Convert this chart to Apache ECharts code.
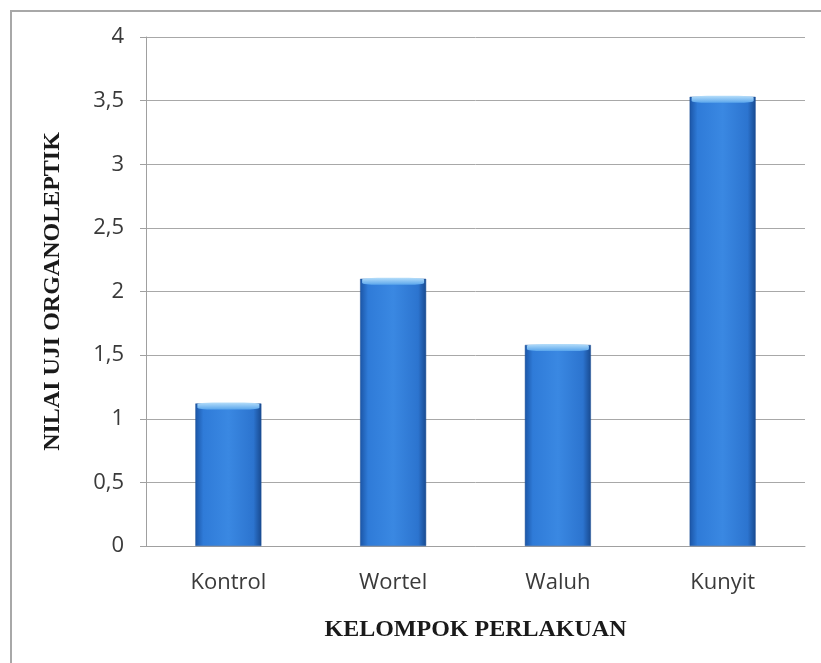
<!DOCTYPE html>
<html>
<head>
<meta charset="utf-8">
<script src="https://cdn.jsdelivr.net/npm/echarts@6/dist/echarts.min.js"></script>
<style>
  html, body { margin: 0; padding: 0; background: #fff; }
  #frame { position: absolute; left: 10px; top: 10px; width: 830px; height: 700px;
           border-left: 2px solid #a8a8a8; border-top: 2px solid #a8a8a8; box-sizing: border-box; }
  #chart { position: absolute; left: 0; top: 0; width: 821px; height: 663px; }
</style>
</head>
<body>
<div id="frame"></div>
<div id="chart"></div>
<script>
// Organoleptic test scores per treatment group
const categories = ['Kontrol', 'Wortel', 'Waluh', 'Kunyit'];
const scores = [1.12, 2.1, 1.58, 3.53];
const yTicks = [0, 0.5, 1, 1.5, 2, 2.5, 3, 3.5, 4];

const chart = echarts.init(document.getElementById('chart'));

const barFill = new echarts.graphic.LinearGradient(0, 0, 1, 0, [
  { offset: 0, color: '#1b55a6' },
  { offset: 0.12, color: '#2f7bd8' },
  { offset: 0.5, color: '#3a88e2' },
  { offset: 0.88, color: '#2c74cf' },
  { offset: 1, color: '#184a90' }
]);

chart.setOption({
  animation: false,
  grid: { left: 146, right: 16, top: 37, bottom: 117 },
  xAxis: {
    type: 'category',
    data: categories,
    name: 'KELOMPOK PERLAKUAN',
    nameLocation: 'middle',
    nameGap: 72,
    nameTextStyle: { fontFamily: 'Liberation Serif', fontWeight: 'bold', fontSize: 24, color: '#1a1a1a' },
    axisLine: { show: true, lineStyle: { color: '#a0a0a0', width: 1 } },
    axisTick: { show: false },
    axisLabel: { margin: 26, fontFamily: 'Open Sans', fontSize: 22, color: '#3a3a3a' }
  },
  yAxis: {
    type: 'value',
    min: 0,
    max: 4,
    interval: 0.5,
    name: 'NILAI UJI ORGANOLEPTIK',
    nameLocation: 'middle',
    nameGap: 81,
    nameTextStyle: { fontFamily: 'Liberation Serif', fontWeight: 'bold', fontSize: 24, color: '#1a1a1a' },
    axisLine: { show: true, lineStyle: { color: '#a0a0a0', width: 1 } },
    axisTick: { show: true, length: 6, lineStyle: { color: '#a0a0a0' } },
    splitLine: { show: true, lineStyle: { color: '#a8a8a8', width: 1 } },
    axisLabel: {
      margin: 22,
      fontFamily: 'Open Sans',
      fontSize: 22,
      color: '#3a3a3a',
      formatter: v => yTicks.includes(v) ? String(v).replace('.', ',') : ''
    }
  },
  series: [
    {
      type: 'bar',
      data: scores,
      barWidth: 66,
      itemStyle: { color: barFill, borderColor: '#1d4f95', borderWidth: 0.5 },
      z: 2
    },
    {
      // light bevel along each bar's top edge
      type: 'pictorialBar',
      data: scores,
      symbol: 'roundRect',
      symbolSize: [62, 7],
      symbolPosition: 'end',
      symbolOffset: [0, -1],
      itemStyle: {
        color: new echarts.graphic.LinearGradient(0, 0, 0, 1, [
          { offset: 0, color: '#b6defa' },
          { offset: 1, color: '#5aa6ec' }
        ])
      },
      z: 3
    }
  ]
});
</script>
</body>
</html>
